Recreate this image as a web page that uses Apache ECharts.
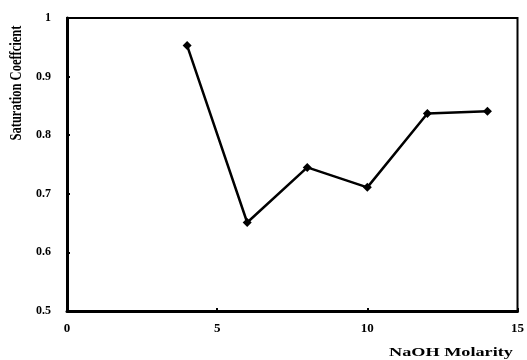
<!DOCTYPE html>
<html>
<head>
<meta charset="utf-8">
<script src="https://cdn.jsdelivr.net/npm/echarts@6/dist/echarts.min.js"></script>
<style>
  html, body { margin: 0; padding: 0; background: #fff; }
  #chart { width: 527px; height: 360px; }
</style>
</head>
<body>
<div id="chart"></div>
<script>
const molarity = [4, 6, 8, 10, 12, 14];
const saturation = [0.953, 0.651, 0.745, 0.711, 0.837, 0.841];
const xTitle = 'NaOH Molarity';
const yTitle = 'Saturation Coeffcient';

const font = 'Liberation Serif';
const chart = echarts.init(document.getElementById('chart'), null, { renderer: 'canvas' });
chart.setOption({
  animation: false,
  backgroundColor: '#fff',
  grid: {
    left: 67, right: 7, top: 18, bottom: 49,
    show: true, borderColor: '#000', borderWidth: 2, backgroundColor: 'transparent'
  },
  xAxis: {
    type: 'value', min: 0, max: 15, interval: 5,
    axisLine: { show: true, lineStyle: { color: '#000', width: 3 } },
    axisTick: { show: true, inside: true, length: 3, lineStyle: { color: '#000', width: 2 } },
    axisLabel: { fontFamily: font, fontWeight: 'bold', fontSize: 13, color: '#000', margin: 11 },
    splitLine: { show: false }
  },
  yAxis: {
    type: 'value', min: 0.5, max: 1, interval: 0.1,
    axisLine: { show: true, lineStyle: { color: '#000', width: 3 } },
    axisTick: { show: true, inside: true, length: 3, lineStyle: { color: '#000', width: 2 } },
    axisLabel: { fontFamily: font, fontWeight: 'bold', fontSize: 12, color: '#000', margin: 16 },
    splitLine: { show: false }
  },
  graphic: [
    {
      type: 'text', x: 451, y: 353, scaleX: 1.4,
      style: { text: xTitle, font: 'bold 13px "Liberation Serif"', fill: '#000', align: 'center', verticalAlign: 'middle' }
    },
    {
      type: 'text', x: 17, y: 83, rotation: Math.PI / 2, scaleY: 1.3,
      style: { text: yTitle, font: 'bold 12.5px "Liberation Serif"', fill: '#000', align: 'center', verticalAlign: 'middle' }
    }
  ],
  series: [{
    type: 'line',
    data: molarity.map((x, i) => [x, saturation[i]]),
    symbol: 'diamond', symbolSize: 9,
    itemStyle: { color: '#000' },
    lineStyle: { color: '#000', width: 2.5 }
  }]
});
</script>
</body>
</html>
